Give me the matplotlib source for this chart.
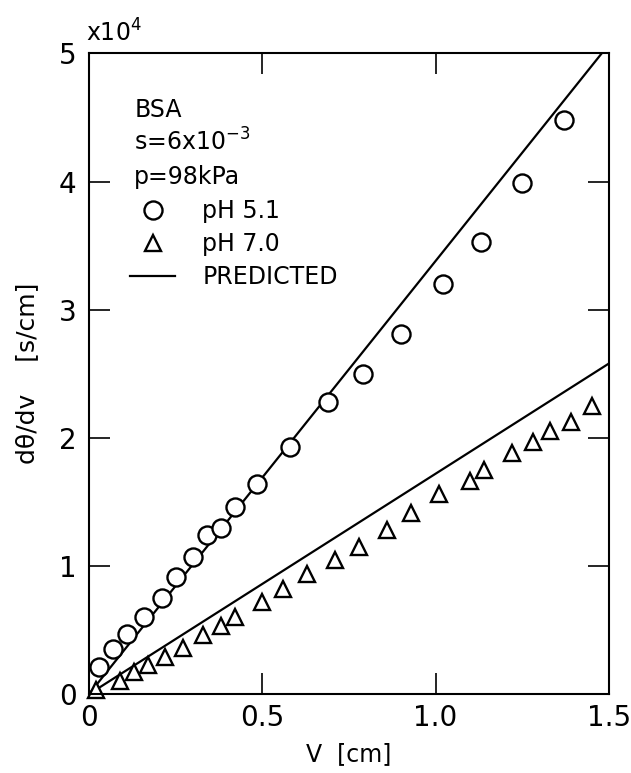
import matplotlib
matplotlib.use("Agg")
import matplotlib.pyplot as plt
from matplotlib.lines import Line2D

# data (v in cm, dtheta/dv in units of 1e4 s/cm)
v_ph51 = [0.03, 0.07, 0.11, 0.16, 0.21, 0.25, 0.30, 0.34, 0.38, 0.42, 0.485,
          0.58, 0.69, 0.79, 0.90, 1.02, 1.13, 1.25, 1.37]
y_ph51 = [0.21, 0.35, 0.47, 0.60, 0.75, 0.915, 1.07, 1.24, 1.30, 1.46, 1.64,
          1.93, 2.28, 2.50, 2.81, 3.20, 3.53, 3.99, 4.48]

v_ph70 = [0.02, 0.09, 0.13, 0.17, 0.22, 0.27, 0.33, 0.38, 0.42, 0.50, 0.56, 0.63,
          0.71, 0.78, 0.86, 0.93, 1.01, 1.10, 1.14, 1.22, 1.28, 1.33, 1.39, 1.45]
y_ph70 = [0.03, 0.10, 0.17, 0.23, 0.29, 0.36, 0.46, 0.53, 0.60, 0.72, 0.82, 0.94,
          1.045, 1.15, 1.28, 1.41, 1.56, 1.66, 1.75, 1.88, 1.97, 2.05, 2.12, 2.25]

pred_v = [0.0, 1.5]
pred_ph51 = [0.0, 5.07]
pred_ph70 = [0.0, 2.58]

xticks = [0, 0.5, 1.0, 1.5]
xticklabels = ["0", "0.5", "1.0", "1.5"]
yticks = [0, 1, 2, 3, 4, 5]

info_lines = ["BSA", "s=6x10$^{-3}$", "p=98kPa"]

plt.rcParams['font.family'] = 'DejaVu Sans'

fig = plt.figure(figsize=(6.31, 7.73), dpi=100)
ax = fig.add_axes([0.141, 0.102, 0.824, 0.829])

ax.plot(pred_v, pred_ph51, color='black', lw=1.6)
ax.plot(pred_v, pred_ph70, color='black', lw=1.6)
ax.plot(v_ph51, y_ph51, 'o', ms=13, mfc='white', mec='black', mew=1.7, ls='none',
        clip_on=False)
ax.plot(v_ph70, y_ph70, '^', ms=12, mfc='white', mec='black', mew=1.7, ls='none',
        clip_on=False)

ax.set_xlim(0, 1.5)
ax.set_ylim(0, 5)
ax.set_xticks(xticks)
ax.set_xticklabels(xticklabels)
ax.set_yticks(yticks)
ax.tick_params(direction='in', length=15, width=1.2, labelsize=20,
               top=True, right=True, pad=9)
ax.tick_params(axis='x', pad=7)
for s in ax.spines.values():
    s.set_linewidth(1.5)

ax.set_xlabel("V  [cm]", fontsize=17, labelpad=7)
ax.set_ylabel("dθ/dv    [s/cm]", fontsize=18, labelpad=14)

ax.text(-0.005, 1.01, r"x10$^4$", transform=ax.transAxes, fontsize=17,
        ha='left', va='bottom')

# annotation block, one line per row
for i, line in enumerate(info_lines):
    ax.text(0.087, 0.900 - i * 0.052, line, transform=ax.transAxes,
            fontsize=17, ha='left', va='baseline')

handles = [
    Line2D([], [], marker='o', ms=13, mfc='white', mec='black', mew=1.7, ls='none'),
    Line2D([], [], marker='^', ms=11, mfc='white', mec='black', mew=1.7, ls='none'),
    Line2D([], [], color='black', lw=1.6),
]
ax.legend(handles, ["pH 5.1", "pH 7.0", "PREDICTED"], loc='upper left',
          bbox_to_anchor=(0.061, 0.787), frameon=False, fontsize=17,
          handlelength=1.9, handletextpad=1.15, labelspacing=0.38,
          borderaxespad=0)

fig.savefig("out.png", dpi=100)
